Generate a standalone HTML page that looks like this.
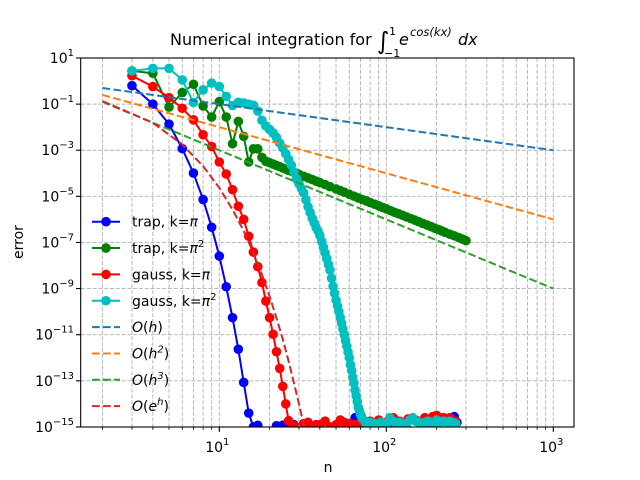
<!DOCTYPE html>
<html><head><meta charset="utf-8"><style>
html,body{margin:0;padding:0;background:#fff;}
svg{display:block;font-family:"DejaVu Sans","Liberation Sans",sans-serif;}
</style></head><body>
<svg id="chart" width="640" height="480" viewBox="0 0 640 480" xmlns="http://www.w3.org/2000/svg">
<rect width="640" height="480" fill="#fff"/>
<defs><clipPath id="plotclip"><rect x="80.7" y="58" width="493.3" height="369"/></clipPath></defs>
<g id="grid"></g>
<g id="series" clip-path="url(#plotclip)"></g>
<rect x="80.7" y="58" width="493.3" height="369" fill="none" stroke="#000" stroke-width="1.1"/>
<g id="ticks"></g>
<g font-size="16" fill="#000">
<text x="170" y="45">Numerical integration for</text>
<text x="377" y="49" font-size="24">∫</text>
<text x="389" y="35" font-size="11">1</text>
<text x="384" y="57" font-size="11">−1</text>
<text x="399" y="45" font-style="italic">e</text>
<text x="410" y="36" font-size="11.5" font-style="italic">cos(kx)</text>
<text x="458" y="45" font-style="italic">dx</text>
</g>
<text x="328" y="472" text-anchor="middle" font-size="14">n</text>
<text x="23" y="242" text-anchor="middle" font-size="14" transform="rotate(-90 23 242)">error</text>
<g id="legend"></g>
</svg>
<script>
// ---- data ----
const trapPiN = [3,4,5,6,7,8,9,10,11,12,13,14,15,16,17,18,20,22,24,26,28,30,40,60,65,80,120,160,200,240,255,265];
const trapPiLogErr = [-0.2,-1.0,-1.87,-2.93,-3.99,-5.14,-6.34,-7.59,-8.92,-10.26,-11.63,-13.07,-14.4,-15.0,-14.93,-15.3,-15.4,-14.95,-14.92,-15.0,-14.9,-15.2,-15.3,-14.9,-14.6,-15.3,-14.8,-15.2,-14.75,-14.7,-14.55,-14.8];
const trapPi2N = [3,4,5,6,7,8,9,10,11,12,13,14,15,16,17,18,19,20,21,22,23,24,25,26,27,28,29,30,32,34,36,38,40,43,46,50,53,56,60,64,68,72,76,80,85,90,95,100,106,112,118,125,132,140,148,156,165,175,185,195,205,215,225,240,255,270,285,300];
const trapPi2LogErr = [0.44,0.34,-1.13,-0.5,-0.14,-1.08,-1.56,-0.89,-1.56,-2.72,-1.75,-2.4,-3.51,-2.94,-2.94,-3.31,-3.48,-3.54,-3.60,-3.66,-3.71,-3.77,-3.82,-3.87,-3.91,-3.96,-4.0,-4.05,-4.13,-4.20,-4.27,-4.34,-4.40,-4.49,-4.58,-4.68,-4.75,-4.82,-4.91,-4.99,-5.07,-5.14,-5.20,-5.27,-5.34,-5.41,-5.48,-5.54,-5.62,-5.69,-5.75,-5.82,-5.89,-5.96,-6.03,-6.10,-6.17,-6.24,-6.31,-6.38,-6.44,-6.50,-6.56,-6.64,-6.71,-6.78,-6.85,-6.92];
const gaussPiN = [3,4,5,6,7,8,9,10,11,12,13,14,15,16,17,18,19,20,21,22,23,24,25,26,27,28,30,32,34,36,38,40,43,46,50,53,56,60,65,70,80,90,100,110,120,135,150,170,190,200,220,240,260];
const gaussPiLogErr = [0.23,-0.24,-0.72,-1.18,-1.68,-2.33,-2.84,-3.51,-4.03,-4.71,-5.43,-6.0,-6.73,-7.42,-8.05,-8.74,-9.54,-10.26,-10.98,-11.74,-12.46,-13.24,-14.0,-14.73,-15.1,-14.95,-15.2,-14.85,-14.8,-15.0,-14.9,-14.9,-14.75,-15.0,-14.9,-14.7,-14.8,-14.85,-14.9,-14.8,-14.75,-14.7,-14.8,-14.6,-14.75,-14.65,-14.7,-14.6,-14.55,-14.5,-14.6,-14.6,-14.75];
const gaussPi2N = [3,4,5,6,7,8,9,10,11,12,13,14,15,16,17,18,19,20,21,22,23,24,25,26,27,28,29,30,31,32,33,34,35,36,37,38,39,40,41,42,43,44,45,46,47,48,49,50,51,52,53,54,55,56,57,58,59,60,61,62,63,64,65,66,67,68,69,70,71,72,75,78,80,84,88,92,96,100,105,110,115,120,126,132,138,144,150,157,164,171,178,185,193,200,210,220,230,240,250,260];
const gaussPi2LogErr = [0.44,0.55,0.55,0.05,-0.93,-0.38,-0.09,-0.24,-0.67,-1.06,-0.92,-0.95,-1.0,-1.05,-1.3,-1.7,-1.95,-2.1,-2.25,-2.45,-2.69,-2.9,-3.15,-3.4,-3.65,-3.95,-4.25,-4.45,-4.65,-4.85,-5.15,-5.45,-5.7,-5.95,-6.15,-6.35,-6.5,-6.7,-6.95,-7.2,-7.45,-7.7,-7.95,-8.2,-8.55,-8.9,-9.2,-9.5,-9.75,-10.0,-10.25,-10.5,-10.75,-11.0,-11.25,-11.5,-11.75,-12.0,-12.3,-12.55,-12.85,-13.1,-13.4,-13.65,-13.9,-14.15,-14.3,-14.45,-14.55,-14.65,-14.8,-14.85,-14.8,-14.85,-14.9,-14.8,-14.85,-14.85,-14.6,-14.75,-14.85,-14.8,-14.85,-14.9,-14.7,-14.6,-14.75,-14.8,-14.85,-14.8,-14.75,-14.8,-14.85,-14.7,-14.8,-14.75,-14.8,-14.75,-14.8,-14.85];
const refN = [2,1000];
const refOhLogErr = [-0.301,-3.0];
const refOh2LogErr = [-0.602,-6.0];
const refOh3LogErr = [-0.903,-9.0];
const refExpN = [2,4,6,8,10,12,14,16,18,20,22,24,26,28,30,32,34];
const refExpLogErr = [-0.87,-1.81,-2.75,-3.69,-4.63,-5.57,-6.5,-7.45,-8.39,-9.33,-10.27,-11.2,-12.15,-13.1,-14.0,-14.9,-15.9];
const yTickExps = [1,-1,-3,-5,-7,-9,-11,-13,-15];
const xTickExps = [1,2,3];

// ---- axes ----
const NS = "http://www.w3.org/2000/svg";
const X0 = 219.3, DEC = 167, Y0 = 58, YDEC = 23.06;
const MR = 4.8;
function xs(n){ return X0 + DEC*(Math.log10(n)-1); }
function ys(l){ return Y0 + (1-l)*YDEC; }
function mk(tag, attrs, parent){
  const e = document.createElementNS(NS, tag);
  for (const k in attrs) e.setAttribute(k, attrs[k]);
  parent.appendChild(e); return e;
}
const grid = document.getElementById('grid');
const ticks = document.getElementById('ticks');
const series = document.getElementById('series');
const legend = document.getElementById('legend');

for (let d = 0; d <= 3; d++) {
  for (let m = 1; m <= 9; m++) {
    const n = m*Math.pow(10,d);
    const x = xs(n);
    if (x < 81 || x > 574) continue;
    const g = mk('line',{x1:x,x2:x,y1:58,y2:427,stroke:'#b0b0b0','stroke-width':0.9,'stroke-dasharray':'4,1.8'},grid);
    
    
    const t = mk('line',{x1:x,x2:x,y1:427,y2:427+(m===1?4.9:2.8),stroke:'#000','stroke-width':m===1?1.1:0.8},ticks);
    
    
  }
}
xTickExps.forEach(e=>{
  const x = xs(Math.pow(10,e));
  const t = mk('text',{x:x-2,y:452,'text-anchor':'middle','font-size':14},ticks);
  
  
  t.textContent = '10';
  const s = mk('tspan',{dy:-7,'font-size':10},t); s.textContent = String(e);
});
yTickExps.forEach(e=>{
  const y = ys(e);
  const g = mk('line',{x1:81,x2:574,y1:y,y2:y,stroke:'#b0b0b0','stroke-width':0.9,'stroke-dasharray':'4,1.8'},grid);
  
  
  const tk = mk('line',{x1:76,x2:80.7,y1:y,y2:y,stroke:'#000','stroke-width':1.1},ticks);
  
  
  const t = mk('text',{x:74,y:y+5,'text-anchor':'end','font-size':14},ticks);
  
  
  t.textContent = '10';
  const s = mk('tspan',{dy:-7,'font-size':10},t); s.textContent = (e<0?'−':'')+Math.abs(e);
});

function drawSeries(ns, ls, color, name){
  const g = mk('g',{},series);
  
  
  const pts = ns.map((n,i)=>xs(n).toFixed(2)+','+ys(ls[i]).toFixed(2)).join(' ');
  mk('polyline',{points:pts,fill:'none',stroke:color,'stroke-width':2,'stroke-linejoin':'round'},g);
  ns.forEach((n,i)=>{
    const c = mk('circle',{cx:xs(n),cy:ys(ls[i]),r:MR,fill:color},g);
    
    
  });
}
function drawRef(ns, ls, color, name){
  const pts = ns.map((n,i)=>xs(n).toFixed(2)+','+ys(ls[i]).toFixed(2)).join(' ');
  const p = mk('polyline',{points:pts,fill:'none',stroke:color,'stroke-width':2,'stroke-dasharray':'7.7,3.3'},series);
  
  
}
drawSeries(trapPiN, trapPiLogErr, '#0000ff', 'trap-k-pi-series');
drawSeries(trapPi2N, trapPi2LogErr, '#008000', 'trap-k-pi2-series');
drawSeries(gaussPiN, gaussPiLogErr, '#ff0000', 'gauss-k-pi-series');
drawSeries(gaussPi2N, gaussPi2LogErr, '#00bfbf', 'gauss-k-pi2-series');
drawRef(refN, refOhLogErr, '#1f77b4', 'ref-o-h-line');
drawRef(refN, refOh2LogErr, '#ff7f0e', 'ref-o-h2-line');
drawRef(refN, refOh3LogErr, '#2ca02c', 'ref-o-h3-line');
drawRef(refExpN, refExpLogErr, '#d62728', 'ref-o-exp-line');

const legendItems = [
  {c:'#0000ff',m:true,t:['trap, k=','π',null]},
  {c:'#008000',m:true,t:['trap, k=','π','2']},
  {c:'#ff0000',m:true,t:['gauss, k=','π',null]},
  {c:'#00bfbf',m:true,t:['gauss, k=','π','2']},
  {c:'#1f77b4',m:false,t:['O(','h',null,')']},
  {c:'#ff7f0e',m:false,t:['O(','h','2',')']},
  {c:'#2ca02c',m:false,t:['O(','h','3',')']},
  {c:'#d62728',m:false,t:['O(','e','h',')']}
];
legendItems.forEach((it,i)=>{
  const y = 221.7 + i*26.35;
  const g = mk('g',{},legend);
  
  
  if (it.m) {
    mk('line',{x1:92,x2:120,y1:y,y2:y,stroke:it.c,'stroke-width':2},g);
    mk('circle',{cx:106,cy:y,r:MR,fill:it.c},g);
  } else {
    mk('line',{x1:92,x2:120,y1:y,y2:y,stroke:it.c,'stroke-width':2,'stroke-dasharray':'7.7,3.3'},g);
  }
  const t = mk('text',{x:132,y:y+5,'font-size':14},g);
  if (it.m) {
    const a = mk('tspan',{},t); a.textContent = it.t[0];
    const b = mk('tspan',{'font-style':'italic'},t); b.textContent = it.t[1];
    if (it.t[2]) { const s = mk('tspan',{dy:-6,'font-size':10},t); s.textContent = it.t[2]; }
  } else {
    const a = mk('tspan',{'font-style':'italic'},t); a.textContent = 'O';
    const a2 = mk('tspan',{},t); a2.textContent = '(';
    const b = mk('tspan',{'font-style':'italic'},t); b.textContent = it.t[1];
    if (it.t[2]) { const s = mk('tspan',{dy:-6,'font-size':10,'font-style':'italic'},t); s.textContent = it.t[2]; }
    const c = mk('tspan',{},t); if (it.t[2]) c.setAttribute('dy',6); c.textContent = ')';
  }
});
</script>
</body></html>
